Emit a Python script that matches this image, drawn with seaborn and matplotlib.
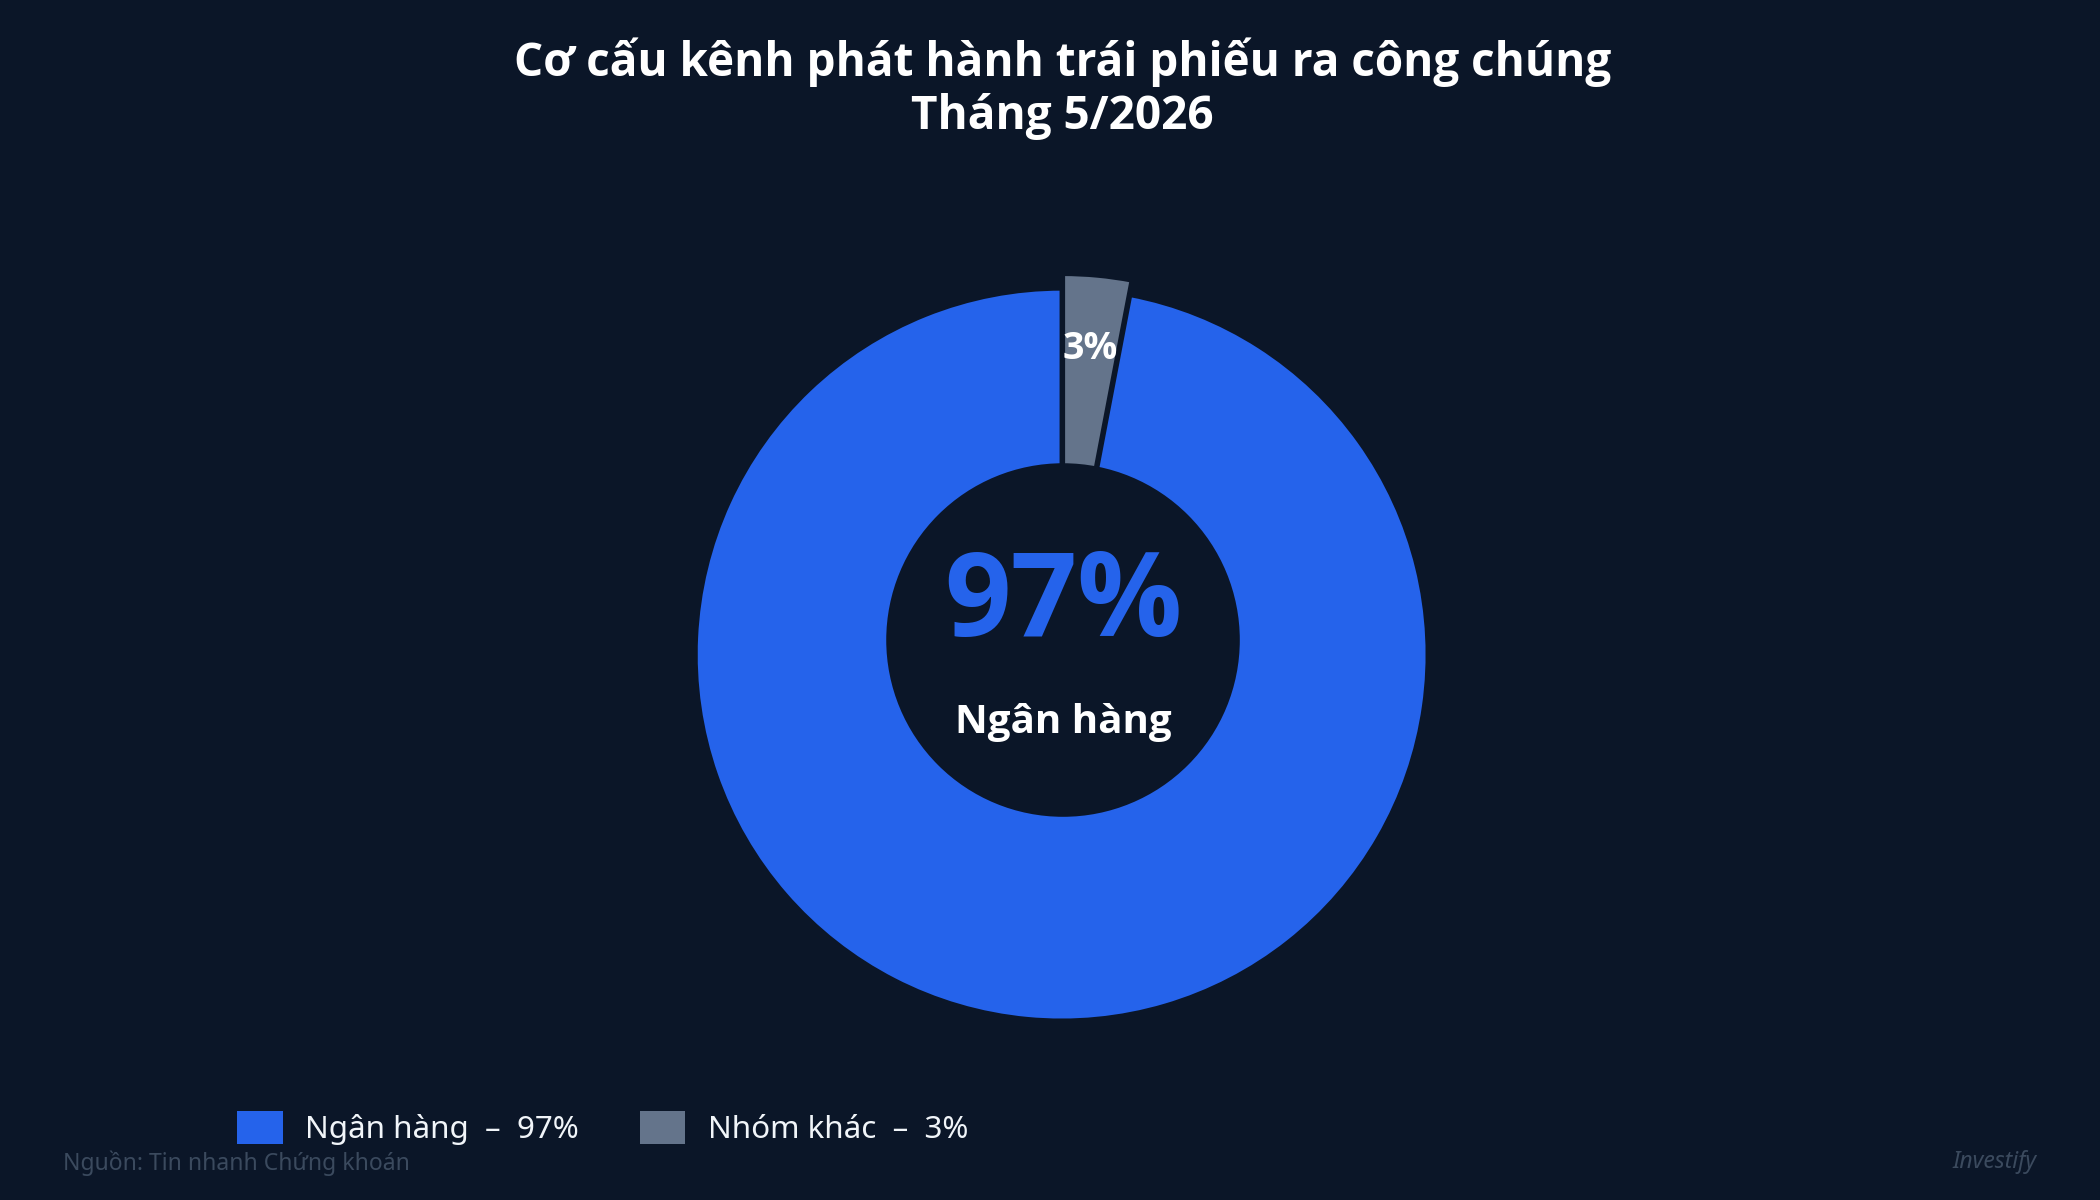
"""Donut chart: Cơ cấu kênh phát hành trái phiếu ra công chúng, tháng 5/2026."""
import matplotlib
matplotlib.use("Agg")
import matplotlib.pyplot as plt
from matplotlib.patches import Circle, Patch
import seaborn as sns

CHANNELS = ["Ngân hàng", "Nhóm khác"]
SHARES = [97, 3]
COLORS = ["#2563eb", "#64748b"]

BG = "#0b1628"
TITLE = "Cơ cấu kênh phát hành trái phiếu ra công chúng\nTháng 5/2026"
SOURCE = "Nguồn: Tin nhanh Chứng khoán"
BRAND = "Investify"
BOLD = ["Open Sans", "DejaVu Sans"]

sns.set_theme(style="dark", rc={"figure.facecolor": BG, "axes.facecolor": BG,
                                "savefig.facecolor": BG})
plt.rcParams["font.family"] = ["Noto Sans", "DejaVu Sans"]

fig = plt.figure(figsize=(21, 12), dpi=100)
ax = fig.add_axes([0.3157, 0.1333, 0.381, 0.6667])
ax.set_facecolor(BG)

wedges, _, autotexts = ax.pie(
    SHARES, colors=COLORS, startangle=90, explode=[0.04, 0],
    autopct=lambda p: f"{p:.0f}%" if p < 50 else "",
    pctdistance=0.80,
    wedgeprops=dict(edgecolor=BG, linewidth=3),
    textprops=dict(color="white", fontsize=27, fontweight="bold", family=BOLD),
)
ax.add_patch(Circle((0, 0), 0.483, facecolor=BG, edgecolor="none", zorder=3))

ax.text(0, 0.093, f"{SHARES[0]}%", ha="center", va="center", fontsize=84,
        fontweight="bold", family=BOLD, color=COLORS[0], zorder=4)
ax.text(0, -0.225, CHANNELS[0], ha="center", va="center", fontsize=29,
        fontweight="bold", family=BOLD, color="white", zorder=4)

lim = 400 / 366
ax.set_xlim(-lim, lim)
ax.set_ylim(-lim, lim)
ax.set_aspect("equal")
ax.axis("off")

fig.text(0.506, 0.926, TITLE, ha="center", va="center", fontsize=33,
         fontweight="bold", family=BOLD, color="white", linespacing=1.15)

handles = [Patch(facecolor=c, edgecolor="none") for c in COLORS]
labels = [f"{n}  –  {v}%" for n, v in zip(CHANNELS, SHARES)]
fig.legend(handles, labels, loc="center left", bbox_to_anchor=(0.1129, 0.06),
           ncol=2, frameon=False, fontsize=22.6, labelcolor="#f1f5f9",
           handlelength=1.45, handleheight=1.25, handletextpad=0.72,
           columnspacing=1.93, borderpad=0, borderaxespad=0)

fig.text(0.030, 0.025, SOURCE, ha="left", va="baseline", fontsize=16.5,
         color="#3b4a5e")
fig.text(0.970, 0.027, BRAND, ha="right", va="baseline", fontsize=16.5,
         style="italic", color="#3b4a5e")

fig.savefig("out.png", dpi=100, facecolor=BG)
plt.close(fig)
